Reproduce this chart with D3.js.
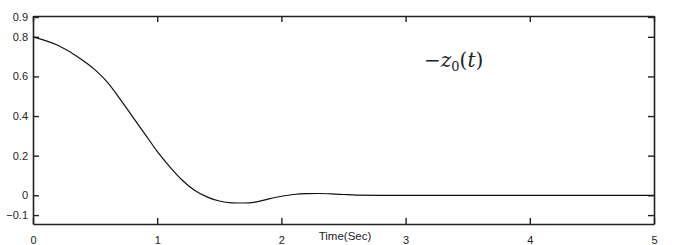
<!DOCTYPE html>
<html>
<head>
<meta charset="utf-8">
<script src="https://cdn.jsdelivr.net/npm/d3@7"></script>
<style>
  body { margin: 0; background: #fff; }
  svg { display: block; }
</style>
</head>
<body>
<div id="chart"></div>
<script>
// data
const time = [0, 0.2, 0.4, 0.5, 0.6, 0.7, 0.8, 0.9, 1.0, 1.1, 1.2, 1.3, 1.4, 1.5, 1.6, 1.7, 1.8, 1.9, 2.0, 2.1, 2.2, 2.3, 2.4, 2.5, 2.6, 2.8, 3.0, 4.0, 5.0];
const z0 = [0.80, 0.757, 0.682, 0.633, 0.57, 0.487, 0.398, 0.31, 0.222, 0.145, 0.077, 0.025, -0.008, -0.029, -0.038, -0.039, -0.033, -0.018, -0.005, 0.004, 0.008, 0.009, 0.007, 0.004, 0.001, 0, 0, 0, 0];
const xTicks = [0, 1, 2, 3, 4, 5];
const yTicks = [-0.1, 0, 0.2, 0.4, 0.6, 0.8, 0.9];

const width = 677, height = 245;
const margin = { top: 16, right: 23, bottom: 21, left: 33 };
const innerW = width - margin.left - margin.right;
const innerH = height - margin.top - margin.bottom;

const svg = d3.select("#chart")
  .append("svg")
  .attr("width", width)
  .attr("height", height);

const g = svg.append("g")
  .attr("transform", `translate(${margin.left},${margin.top})`);

const x = d3.scaleLinear().domain([0, 5]).range([0, innerW]);
const y = d3.scaleLinear().domain([-0.145, 0.905]).range([innerH, 0]);

const tickLen = 6;
const font = "'Liberation Sans', Arial, sans-serif";

// bottom axis, ticks pointing inward
const xAxis = g.append("g")
  .attr("transform", `translate(0,${innerH})`)
  .call(d3.axisBottom(x).tickValues(xTicks).tickFormat(d3.format("d"))
    .tickSizeInner(-tickLen).tickSizeOuter(0).tickPadding(12));
xAxis.selectAll("text").style("font-size", "11px").style("font-family", font).attr("fill", "#222");

// top mirrored ticks
g.append("g")
  .call(d3.axisTop(x).tickValues(xTicks).tickFormat("")
    .tickSizeInner(-tickLen).tickSizeOuter(0));

// left axis
const yAxis = g.append("g")
  .call(d3.axisLeft(y).tickValues(yTicks).tickFormat(d => d === 0 ? "0" : d3.format(".1f")(d))
    .tickSizeInner(-tickLen).tickSizeOuter(0).tickPadding(5));
yAxis.selectAll("text").style("font-size", "11px").style("font-family", font).attr("fill", "#222");

// right mirrored ticks
g.append("g")
  .attr("transform", `translate(${innerW},0)`)
  .call(d3.axisRight(y).tickValues(yTicks).tickFormat("")
    .tickSizeInner(-tickLen).tickSizeOuter(0));

g.selectAll(".domain").attr("stroke", "#222").attr("stroke-width", 1.6);
g.selectAll(".tick line").attr("stroke", "#222").attr("stroke-width", 1.4);

// curve
const line = d3.line()
  .x((d, i) => x(time[i]))
  .y(d => y(d))
  .curve(d3.curveMonotoneX);

g.append("path")
  .datum(z0)
  .attr("fill", "none")
  .attr("stroke", "#111")
  .attr("stroke-width", 1.2)
  .attr("d", line);

// axis title
svg.append("text")
  .attr("x", 345)
  .attr("y", height - 5)
  .attr("text-anchor", "middle")
  .style("font-size", "11.5px")
  .style("font-family", font)
  .attr("fill", "#222")
  .text("Time(Sec)");

// legend label  -z0(t)
const lbl = svg.append("text")
  .attr("x", 424)
  .attr("y", 67)
  .style("font-family", "'DejaVu Serif', 'Liberation Serif', serif")
  .style("font-size", "20px")
  .attr("fill", "#222");
lbl.append("tspan").text("\u2212");
lbl.append("tspan").style("font-style", "italic").text("z");
lbl.append("tspan").attr("dy", 4).style("font-size", "13px").text("0");
lbl.append("tspan").attr("dy", -4).text("(");
lbl.append("tspan").style("font-style", "italic").text("t");
lbl.append("tspan").text(")");
</script>
</body>
</html>
